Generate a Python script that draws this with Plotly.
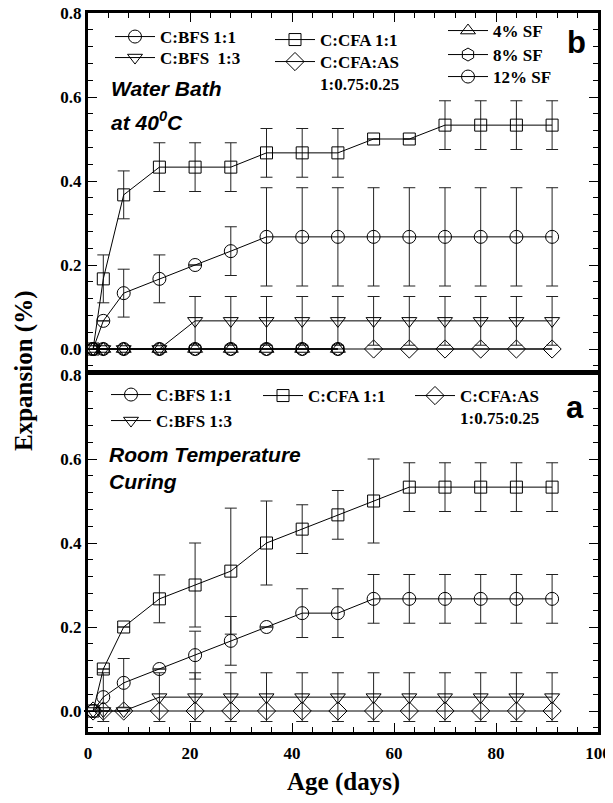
import plotly.graph_objects as go

# ---------------- data ----------------
days = [1, 3, 7, 14, 21, 28, 35, 42, 49, 56, 63, 70, 77, 84, 91]

# (b) Water bath at 40 C
wb_bfs11 = [0, 0.067, 0.133, 0.167, 0.2, 0.233, 0.267, 0.267, 0.267, 0.267, 0.267, 0.267, 0.267, 0.267, 0.267]
wb_bfs11_err = [None, None, 0.057, 0.057, None, 0.058, 0.117, 0.117, 0.117, 0.117, 0.117, 0.117, 0.117, 0.117, 0.117]
wb_bfs13 = [0, 0, 0, 0, 0.067, 0.067, 0.067, 0.067, 0.067, 0.067, 0.067, 0.067, 0.067, 0.067, 0.067]
wb_bfs13_err = [None, None, None, None, 0.058, 0.058, 0.058, 0.058, 0.058, 0.058, 0.058, 0.058, 0.058, 0.058, 0.058]
wb_cfa = [0, 0.167, 0.367, 0.433, 0.433, 0.433, 0.467, 0.467, 0.467, 0.5, 0.5, 0.533, 0.533, 0.533, 0.533]
wb_cfa_err = [None, 0.057, 0.057, 0.058, 0.058, 0.058, 0.058, 0.058, 0.058, None, None, 0.058, 0.058, 0.058, 0.058]
wb_cfaas = [0] * 15
sf_days = [1, 3, 7, 14, 21, 28, 35, 42, 49]
sf4 = [0, 0, 0, 0, 0, 0, 0, 0, 0]
sf8 = [0, 0, 0, 0, 0, 0, 0, 0, 0]
sf12 = [0, 0, 0, 0, 0, 0, 0, 0, 0]

# (a) Room temperature curing
rt_bfs11 = [0, 0.033, 0.067, 0.1, 0.133, 0.167, 0.2, 0.233, 0.233, 0.267, 0.267, 0.267, 0.267, 0.267, 0.267]
rt_bfs11_err = [None, 0.058, 0.058, None, 0.057, 0.058, None, 0.058, 0.058, 0.058, 0.058, 0.058, 0.058, 0.058, 0.058]
rt_bfs13 = [0, 0, 0, 0.033, 0.033, 0.033, 0.033, 0.033, 0.033, 0.033, 0.033, 0.033, 0.033, 0.033, 0.033]
rt_bfs13_err = [None, None, None, 0.058, 0.058, 0.058, 0.058, 0.058, 0.058, 0.058, 0.058, 0.058, 0.058, 0.058, 0.058]
rt_cfa = [0, 0.1, 0.2, 0.267, 0.3, 0.333, 0.4, 0.433, 0.467, 0.5, 0.533, 0.533, 0.533, 0.533, 0.533]
rt_cfa_err = [None, None, None, 0.057, 0.1, 0.15, 0.1, 0.058, 0.058, 0.1, 0.058, 0.058, 0.058, 0.058, 0.058]
rt_cfaas = [0] * 15

x_ticks = [0, 20, 40, 60, 80, 100]
y_ticks = [0.0, 0.2, 0.4, 0.6, 0.8]
y_ticklabels = ["0.0", "0.2", "0.4", "0.6", "0.8"]

# ---------------- layout helpers ----------------
W, H = 613, 803
OFF = 8  # page body margin
# plot area in screen pixels: x 88..598, y 13..732
ML, MR, MT, MB = 88 - OFF, W - (598 - OFF), 13 - OFF, H - (732 - OFF)
PW, PH = W - ML - MR, H - MT - MB


def px_x(p):
    return (p - OFF - ML) / PW


def px_y(p):
    return (H - MB - (p - OFF)) / PH


SERIF = "Liberation Serif"
SANS = "Liberation Sans"
LEG_FONT = dict(family=SERIF, size=17, color="black", weight="bold")

fig = go.Figure()


def add(x, y, err, symbol, size, name, xa, ya, legend=None, mode="lines+markers", show=True):
    fig.add_trace(go.Scatter(
        x=x, y=y, mode=mode, name=name,
        xaxis=xa, yaxis=ya,
        line=dict(color="black", width=1),
        marker=dict(symbol=symbol, size=size, color="black", line=dict(width=1, color="black")),
        error_y=dict(type="data", array=err, visible=err is not None, color="#222", thickness=1, width=6),
        showlegend=show and legend is not None,
        legend=legend if legend else "legend",
        cliponaxis=False,
    ))


# top panel (b)
add(days, wb_cfaas, None, "diamond-open", 14, "", "x2", "y2", mode="lines", show=False)
covered = sum(1 for d in days if d <= sf_days[-1])
add(days[covered:], wb_cfaas[covered:], None, "diamond-open", 14, "C:CFA:AS<br>1:0.75:0.25", "x2", "y2", legend="legend4")
add(days, wb_bfs13, wb_bfs13_err, "triangle-down-open", 13, "C:BFS\u00a0 1:3", "x2", "y2", legend="legend2")
add(days, wb_bfs11, wb_bfs11_err, "circle-open", 13, "C:BFS 1:1", "x2", "y2", legend="legend")
add(days, wb_cfa, wb_cfa_err, "square-open", 12, "C:CFA 1:1", "x2", "y2", legend="legend3")
add(sf_days, sf4, None, "triangle-up-open", 13, "4% SF", "x2", "y2", legend="legend5")
add(sf_days, sf8, None, "hexagon-open", 13, "8% SF", "x2", "y2", legend="legend6")
add(sf_days, sf12, None, "circle-open", 13, "12% SF", "x2", "y2", legend="legend7")

# bottom panel (a)
add(days, rt_cfaas, None, "diamond-open", 14, "C:CFA:AS<br>1:0.75:0.25", "x", "y", legend="legend11")
add(days, rt_bfs13, rt_bfs13_err, "triangle-down-open", 13, "C:BFS 1:3", "x", "y", legend="legend9")
add(days, rt_bfs11, rt_bfs11_err, "circle-open", 13, "C:BFS 1:1", "x", "y", legend="legend8")
add(days, rt_cfa, rt_cfa_err, "square-open", 12, "C:CFA 1:1", "x", "y", legend="legend10")

# legends: (name, text-left px, center-y px) in screen pixels
leg_pos = {
    "legend": (162, 37),
    "legend2": (162, 58),
    "legend3": (322, 40),
    "legend4": (322, 73),
    "legend5": (495, 31),
    "legend6": (495, 55),
    "legend7": (495, 77),
    "legend8": (158, 395),
    "legend9": (158, 421),
    "legend10": (310, 396),
    "legend11": (462, 407),
}
legs = {}
for k, (tx, ty) in leg_pos.items():
    legs[k] = dict(
        x=px_x(tx - 52), y=px_y(ty), xanchor="left", yanchor="middle",
        bgcolor="rgba(0,0,0,0)", borderwidth=0, font=LEG_FONT,
        itemwidth=40, valign="top", tracegroupgap=0,
    )

axis_common = dict(
    showline=True, linewidth=3, linecolor="black", showgrid=False, zeroline=False,
    ticks="inside", ticklen=9, tickwidth=1.2, tickcolor="black",
    tickfont=dict(family=SERIF, size=17, color="black", weight="bold"),
    ticklabeloverflow="allow",
)
minor_x = dict(dtick=4, ticklen=5, ticks="inside", tickcolor="black", tickwidth=1.2)
minor_y = dict(dtick=0.04, tick0=0, ticklen=5, ticks="inside", tickcolor="black", tickwidth=1.2)

xdom = [0, 1]
bot_dom = [0, px_y(375)]
top_dom = [px_y(370), 1]

fig.update_layout(
    width=W, height=H,
    margin=dict(l=ML, r=MR, t=MT, b=MB, autoexpand=False),
    plot_bgcolor="white", paper_bgcolor="white",
    xaxis=dict(axis_common, domain=xdom, range=[0, 100], tickvals=x_ticks, anchor="y",
               mirror=True, minor=minor_x, ticklabelstandoff=4),
    yaxis=dict(axis_common, domain=bot_dom, range=[-0.05, 0.8], tickvals=y_ticks, ticktext=y_ticklabels,
               anchor="x", mirror="allticks", minor=minor_y),
    xaxis2=dict(axis_common, domain=xdom, range=[0, 100], tickvals=x_ticks, anchor="y2", side="top",
                showticklabels=False, mirror=True, minor=minor_x),
    yaxis2=dict(axis_common, domain=top_dom, range=[-0.05, 0.8], tickvals=y_ticks, ticktext=y_ticklabels,
                anchor="x2", mirror="allticks", minor=minor_y),
    **legs,
)


def note(text, sx, sy, font, xanchor="center", **kw):
    return dict(text=text, x=px_x(sx), y=px_y(sy), xref="paper", yref="paper", showarrow=False,
                xanchor=xanchor, yanchor="middle", font=font, **kw)


ITAL = dict(family=SANS, size=21, color="black", weight="bold", style="italic")
BIG = dict(family=SANS, size=31, color="black", weight="bold")
TITLE = dict(family=SERIF, size=25, color="black", weight="bold")
ann = [
    note("b", 576, 43, BIG),
    note("a", 575, 407, BIG),
    note("Water Bath", 109, 89, ITAL, xanchor="left"),
    note("at 40<sup>0</sup>C", 109, 121, ITAL, xanchor="left"),
    note("Room Temperature<br>Curing", 107, 468, ITAL, xanchor="left", align="left"),
    note("Expansion (%)", 24, 371, TITLE, textangle=-90),
    note("Age (days)", 343, 782, TITLE),
]
fig.update_layout(annotations=ann)

fig.write_html("out.html")
